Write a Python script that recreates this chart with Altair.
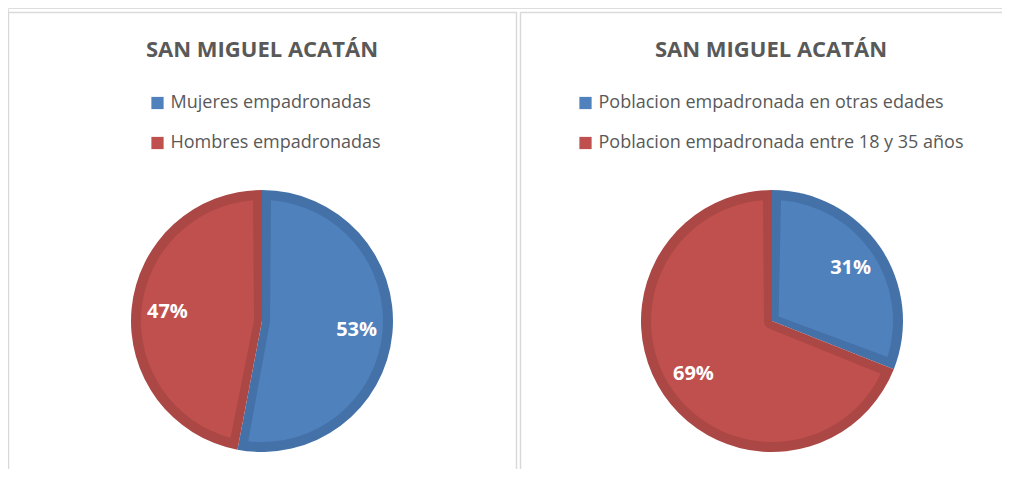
import altair as alt
import pandas as pd

# ---- data ----
left_categories = ["Mujeres empadronadas", "Hombres empadronadas"]
left_values = [53, 47]
right_categories = ["Poblacion empadronada en otras edades",
                    "Poblacion empadronada entre 18 y 35 años"]
right_values = [31, 69]
panel_titles = ["SAN MIGUEL ACATÁN", "SAN MIGUEL ACATÁN"]

# ---- style ----
light_colors = ["#4F81BD", "#C0504D"]
dark_colors = ["#4471A8", "#AB4744"]
FONT = "Open Sans"
W, H = 994, 461
R_OUT, R_IN = 131, 121
PAD = 0.1486


def frame(cats, vals):
    return pd.DataFrame({
        "cat": cats,
        "val": vals,
        "idx": list(range(len(cats))),
        "lab": [f"{v}%" for v in vals],
    })


def pie(df, cx, cy, lx, ly):
    base = alt.Chart(df).encode(
        theta=alt.Theta("val:Q", stack=True),
        order=alt.Order("idx:Q"),
        x=alt.value(cx),
        y=alt.value(cy),
    )
    outer = base.mark_arc(outerRadius=R_OUT, innerRadius=0).encode(
        color=alt.Color("cat:N", sort=list(df["cat"]),
                        scale=alt.Scale(domain=list(df["cat"]), range=dark_colors),
                        legend=None)
    )
    inner = base.mark_arc(outerRadius=R_IN, innerRadius=8, padAngle=PAD).encode(
        color=alt.Color("cat:N", sort=list(df["cat"]),
                        scale=alt.Scale(domain=list(df["cat"]), range=light_colors),
                        legend=alt.Legend(orient="none", legendX=lx, legendY=ly,
                                          title=None, symbolType="square",
                                          symbolSize=150, symbolStrokeWidth=0,
                                          labelFont=FONT, labelFontSize=18,
                                          labelColor="#595959", rowPadding=22,
                                          labelOffset=4, labelLimit=0, padding=0))
    )
    text = base.mark_text(radius=95, font=FONT, fontSize=20, fontWeight="bold",
                          color="white").encode(
        text="lab:N", detail="cat:N"
    )
    return [outer, inner, text]


left = frame(left_categories, left_values)
right = frame(right_categories, right_values)

dummy = pd.DataFrame({"p": [0]})
GRAY = "#D9D9D9"
borders = [
    # left panel: top, left, right edges
    alt.Chart(dummy).mark_rule(stroke=GRAY, strokeWidth=1.5).encode(
        x=alt.value(0), x2=alt.value(508.5), y=alt.value(4.5)),
    alt.Chart(dummy).mark_rule(stroke=GRAY, strokeWidth=1.5).encode(
        x=alt.value(0.5), y=alt.value(4), y2=alt.value(H + 10)),
    alt.Chart(dummy).mark_rule(stroke=GRAY, strokeWidth=1.5).encode(
        x=alt.value(508.5), y=alt.value(4), y2=alt.value(H + 10)),
    # right panel: top, left edges
    alt.Chart(dummy).mark_rule(stroke=GRAY, strokeWidth=1.5).encode(
        x=alt.value(512.5), x2=alt.value(W + 10), y=alt.value(4.5)),
    alt.Chart(dummy).mark_rule(stroke=GRAY, strokeWidth=1.5).encode(
        x=alt.value(512.5), y=alt.value(4), y2=alt.value(H + 10)),
]

titles_df = pd.DataFrame({"t": panel_titles})
title_l = alt.Chart(titles_df.iloc[[0]]).mark_text(
    font=FONT, fontSize=22, fontWeight="bold", color="#595959", baseline="middle"
).encode(text="t:N", x=alt.value(254), y=alt.value(42))
title_r = alt.Chart(titles_df.iloc[[1]]).mark_text(
    font=FONT, fontSize=22, fontWeight="bold", color="#595959", baseline="middle"
).encode(text="t:N", x=alt.value(763), y=alt.value(42))

layers = borders + [title_l, title_r] + pie(left, 254, 313, 140.5, 86) + pie(right, 764, 313, 568.5, 86)

chart = alt.layer(*layers).resolve_scale(
    color="independent", theta="independent"
).properties(
    width=W, height=H, padding=0, autosize=alt.AutoSizeParams(type="none")
).configure_view(stroke=None).configure(background="white")

chart.save("out.html", embed_options={"renderer": "svg", "actions": False})
